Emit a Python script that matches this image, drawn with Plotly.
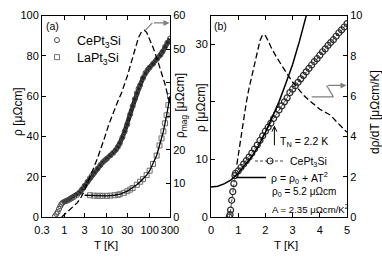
import numpy as np
import plotly.graph_objects as go

W, H = 382, 270
FONT = "Liberation Sans, Arial, Helvetica, sans-serif"

# ---------------- panel (a) data ----------------
a_xtick_vals = [0.3, 1, 3, 10, 30, 100, 300]
a_xtick_text = ["0.3", "1", "3", "10", "30", "100", "300"]
a_ytick_vals = [0, 20, 40, 60, 80, 100]
a_y2tick_vals = [0, 10, 20, 30, 40, 50, 60]
a_y2tick_text = ["0", "10", "20", "", "", "50", "60"]

ce_a_T = [0.60, 0.65, 0.70, 0.75, 0.80, 0.85, 0.90, 1.0, 1.1, 1.2, 1.35, 1.5, 1.7, 2.0,
          2.3, 2.6, 3.0, 3.5, 4.0, 4.5, 5.0, 6.0, 7.0, 8.0, 9.0, 10, 12, 14, 16, 18, 20,
          23, 26, 30, 35, 40, 45, 50, 55, 60, 70, 80, 90, 100, 120, 150, 180, 200, 230,
          260, 300]
ce_a_rho = [0.3, 1.5, 2.5, 4.0, 5.3, 6.3, 7.0, 7.6, 7.9, 8.2, 8.7, 9.3, 10.0, 11.0,
            12.3, 13.7, 15.5, 17.5, 19.3, 20.8, 22.0, 24.0, 25.8, 27.2, 28.2, 29.0, 30.5,
            31.8, 33.2, 34.8, 36.5, 39.5, 42.5, 46.0, 51.0, 55.0, 58.5, 61.5, 63.8, 65.5,
            69.0, 71.5, 73.0, 74.2, 76.0, 78.5, 80.5, 82.0, 84.5, 86.5, 88.5]

la_a_T = [4, 5, 6, 7, 8, 10, 12, 15, 18, 20, 25, 30, 35, 40, 50, 60, 70, 85, 100, 120,
          146, 170, 190, 210, 230, 250, 275, 300]
la_a_rho = [10.8, 10.6, 10.5, 10.5, 10.5, 10.5, 10.6, 10.8, 11.0, 11.3, 12.0, 12.8, 13.6,
            14.4, 16.0, 17.5, 18.8, 20.8, 23.0, 26.3, 30.5, 35.5, 39.0, 42.5, 46.5, 50.5,
            55.5, 60.0]

la_fit_T = [3, 4, 6, 10, 15, 20, 30, 40, 50, 60, 70, 85, 100, 120, 146, 170, 210, 250, 300]
la_fit_rho = [10.8, 10.7, 10.5, 10.5, 10.8, 11.3, 12.8, 14.4, 16.0, 17.5, 18.8, 20.8,
              23.0, 26.3, 30.5, 35.5, 42.5, 50.5, 60.0]

mag_T = [0.87, 1.0, 1.3, 1.6, 2.0, 2.5, 3.0, 3.5, 4.0, 5.0, 6.0, 7.5, 9.0, 11, 13, 15,
         18, 22, 26, 30, 38, 45, 55, 65, 75, 85, 100, 120, 150, 190, 230, 270, 300]
mag_v = [0, 0.7, 1.8, 2.9, 4.2, 6.0, 8.0, 10.2, 12.2, 15.0, 17.5, 20.8, 24.0, 27.5, 30.0,
         32.0, 34.5, 37.0, 39.5, 42.0, 46.5, 50.0, 53.5, 55.2, 55.6, 55.0, 53.0, 50.5,
         47.0, 43.0, 39.5, 35.8, 33.5]

arrow_a_T = [78, 116]
arrow_a_v = [55.5, 57.8]
arrow_a_tip_T = 292

# ---------------- panel (b) data ----------------
b_xtick_vals = [0, 1, 2, 3, 4, 5]
b_ytick_vals = [0, 10, 20, 30]
b_ytick_text = ["0", "10", "", "30"]
b_y2tick_vals = [0, 2, 4, 6, 8, 10]

ce_b_T = [0.67, 0.70, 0.72, 0.76, 0.80, 0.84, 0.88, 0.9, 1.0, 1.1, 1.2, 1.3, 1.4, 1.5,
          1.6, 1.7, 1.8, 1.9, 2.0, 2.1, 2.2, 2.3, 2.4, 2.5, 2.6, 2.7, 2.8, 2.9, 3.0, 3.1,
          3.2, 3.3, 3.4, 3.5, 3.6, 3.7, 3.8, 3.9, 4.0, 4.1, 4.2, 4.3, 4.4, 4.5, 4.6, 4.7,
          4.8, 4.9, 5.0]
ce_b_rho = [0.0, 0.4, 1.2, 2.9, 4.4, 5.8, 7.2, 7.6, 8.0, 8.6, 9.2, 9.8, 10.4, 11.1,
            11.8, 12.5, 13.3, 14.1, 14.9, 15.6, 16.3, 17.1, 17.8, 18.6, 19.3, 20.0, 20.7,
            21.6, 22.2, 22.8, 23.4, 24.0, 24.6, 25.2, 25.8, 26.4, 27.0, 27.5, 28.1, 28.7,
            29.2, 29.8, 30.3, 30.8, 31.4, 32.0, 32.5, 33.0, 33.6]

fit_b_T = [0, 0.25, 0.5, 0.75, 1.0, 1.25, 1.5, 1.75, 2.0, 2.25, 2.5, 2.75, 3.0, 3.25,
           3.5, 3.7]
fit_b_rho = [5.2, 5.35, 5.8, 6.5, 7.6, 9.0, 10.5, 12.4, 14.7, 17.3, 20.0, 23.2, 26.5,
             30.5, 35.0, 38.5]

drdt_T = [0.95, 1.05, 1.13, 1.2, 1.3, 1.4, 1.5, 1.6, 1.7, 1.8, 1.9, 2.0, 2.1, 2.2, 2.4,
          2.6, 2.8, 3.0, 3.2, 3.4, 3.6, 3.8, 4.0, 4.2, 4.4, 4.6, 4.8, 5.0]
drdt_v = [2.6, 3.5, 4.3, 5.0, 5.7, 6.4, 6.95, 7.6, 8.2, 8.75, 9.05, 9.0, 8.75, 8.45,
          7.95, 7.5, 7.1, 6.7, 6.35, 6.05, 5.8, 5.55, 5.35, 5.2, 5.05, 4.75, 4.45, 4.2]

arrow_b_T = [3.70, 4.50, 4.25]
arrow_b_v = [5.96, 5.96, 6.53]
arrow_b_tip_T = 4.98

tn_T = 2.33
tn_rho_tail, tn_rho_tip = 12.2, 15.9


def px(x):
    return x / W


def py(y):
    return 1 - y / H


fig = go.Figure()

# ----- panel (a) traces -----
fig.add_trace(go.Scatter(x=mag_T, y=mag_v, xaxis="x", yaxis="y2", mode="lines",
                         line=dict(color="black", width=1.3, dash="6px,3px"),
                         showlegend=False))
fig.add_trace(go.Scatter(x=ce_a_T[6:], y=ce_a_rho[6:], xaxis="x", yaxis="y", mode="lines",
                         line=dict(color="#262626", width=4.5), showlegend=False))
fig.add_trace(go.Scatter(x=ce_a_T, y=ce_a_rho, xaxis="x", yaxis="y", mode="markers",
                         marker=dict(symbol="circle-open", size=5, color="#4a4a4a",
                                     line=dict(width=1)),
                         name="CePt<sub>3</sub>Si", legend="legend"))
fig.add_trace(go.Scatter(x=la_a_T, y=la_a_rho, xaxis="x", yaxis="y", mode="markers",
                         marker=dict(symbol="square-open", size=5, color="#707070",
                                     line=dict(width=1)),
                         name="LaPt<sub>3</sub>Si", legend="legend4"))
fig.add_trace(go.Scatter(x=la_fit_T, y=la_fit_rho, xaxis="x", yaxis="y", mode="lines",
                         line=dict(color="black", width=1.3), showlegend=False))
fig.add_trace(go.Scatter(x=arrow_a_T, y=arrow_a_v, xaxis="x", yaxis="y2", mode="lines",
                         line=dict(color="#808080", width=1.2), showlegend=False))

# ----- panel (b) traces -----
fig.add_trace(go.Scatter(x=drdt_T, y=drdt_v, xaxis="x2", yaxis="y4", mode="lines",
                         line=dict(color="black", width=1.3, dash="6px,3px"),
                         showlegend=False))
fig.add_trace(go.Scatter(x=ce_b_T, y=ce_b_rho, xaxis="x2", yaxis="y3",
                         mode="lines+markers",
                         line=dict(color="#444444", width=1, dash="3px,2px"),
                         marker=dict(symbol="circle-open", size=6, color="#2a2a2a",
                                     line=dict(width=1.2)),
                         name="CePt<sub>3</sub>Si", legend="legend2"))
fig.add_trace(go.Scatter(x=fit_b_T, y=fit_b_rho, xaxis="x2", yaxis="y3", mode="lines",
                         line=dict(color="black", width=1.5),
                         name="ρ = ρ<sub>0</sub> + AT<sup>2</sup>", legend="legend3"))
fig.add_trace(go.Scatter(x=arrow_b_T, y=arrow_b_v, xaxis="x2", yaxis="y4", mode="lines",
                         line=dict(color="#808080", width=1.2), showlegend=False))

axis_common = dict(showline=True, linecolor="black", linewidth=1, ticks="inside",
                   ticklen=4, tickwidth=1, tickcolor="black", showgrid=False,
                   zeroline=False, automargin=False,
                   tickfont=dict(size=11, color="black", family=FONT))

ydom = [py(217), py(15.5)]


def leg(x, y, size):
    return dict(x=px(x), y=py(y), xanchor="left", yanchor="top",
                bgcolor="rgba(0,0,0,0)", borderwidth=0,
                font=dict(size=size, family=FONT, color="black"), itemwidth=30)


fig.update_layout(
    template="none",
    width=W, height=H, margin=dict(l=0, r=0, t=0, b=0, pad=0, autoexpand=False),
    paper_bgcolor="white", plot_bgcolor="white",
    font=dict(family=FONT, color="black", size=11),
    xaxis=dict(type="log", domain=[px(42), px(170)],
               range=[np.log10(0.3), np.log10(300)], tickmode="array",
               tickvals=a_xtick_vals, ticktext=a_xtick_text, anchor="y",
               mirror="ticks", ticklabelstandoff=3, **axis_common),
    yaxis=dict(domain=ydom, range=[0, 100], tickmode="array", tickvals=a_ytick_vals,
               anchor="x", **axis_common),
    yaxis2=dict(overlaying="y", side="right", range=[0, 60], tickmode="array",
                tickvals=a_y2tick_vals, ticktext=a_y2tick_text, anchor="x",
                **axis_common),
    xaxis2=dict(domain=[px(211), px(347)], range=[0, 5], tickmode="array",
                tickvals=b_xtick_vals, anchor="y3", mirror="ticks",
                ticklabelstandoff=3, **axis_common),
    yaxis3=dict(domain=ydom, range=[0, 35], tickmode="array", tickvals=b_ytick_vals,
                ticktext=b_ytick_text, anchor="x2", **axis_common),
    yaxis4=dict(overlaying="y3", side="right", range=[0, 10], tickmode="array",
                tickvals=b_y2tick_vals, anchor="x2", **axis_common),
    legend=leg(37, 25.5, 12.5),
    legend4=leg(37, 42.5, 12.5),
    legend2=leg(250, 146.5, 10.5),
    legend3=leg(231, 163, 10.5),
)

ann = []


def text(x, y, s, size=11, angle=0, xanchor="center"):
    ann.append(dict(x=px(x), y=py(y), xref="paper", yref="paper", text=s,
                    showarrow=False, textangle=angle, xanchor=xanchor,
                    yanchor="middle", font=dict(size=size, family=FONT, color="black")))


text(52, 26, "(a)", 10.5)
text(220, 26, "(b)", 10.5)
text(106, 245, "T [K]", 11.5)
text(286, 245, "T [K]", 11.5)
text(18, 112, "ρ [μΩcm]", 12, -90)
text(181, 106, "ρ<sub>mag</sub> [μΩcm]", 12, -90)
text(201, 108, "ρ [μΩcm]", 12, -90)
text(375, 112, "dρ/dT [μΩcm/K]", 12, -90)
text(278, 142, "T<sub>N</sub> = 2.2 K", 10.5, 0, "left")
text(270, 192, "ρ<sub>0</sub> = 5.2 μΩcm", 10, 0, "left")
text(270, 209, "A = 2.35 μΩcm/K<sup>2</sup>", 9.6, 0, "left")

# arrows
ann.append(dict(x=np.log10(arrow_a_tip_T), y=arrow_a_v[-1], xref="x", yref="y2",
                ax=np.log10(arrow_a_T[-1]), ay=arrow_a_v[-1], axref="x", ayref="y2",
                text="", showarrow=True, arrowhead=2, arrowsize=1, arrowwidth=1.2,
                arrowcolor="#808080", standoff=0))
ann.append(dict(x=arrow_b_tip_T, y=arrow_b_v[-1], xref="x2", yref="y4",
                ax=arrow_b_T[-1], ay=arrow_b_v[-1], axref="x2", ayref="y4",
                text="", showarrow=True, arrowhead=2, arrowsize=1, arrowwidth=1.2,
                arrowcolor="#808080", standoff=0))
ann.append(dict(x=tn_T, y=tn_rho_tip, xref="x2", yref="y3",
                ax=tn_T, ay=tn_rho_tail, axref="x2", ayref="y3",
                text="", showarrow=True, arrowhead=5, arrowsize=1, arrowwidth=1,
                arrowcolor="black", standoff=0))
fig.update_layout(annotations=ann)

fig.write_html("out.html", config={"displayModeBar": False},
               post_script="document.body.style.margin='0px';"
                           "document.body.style.overflow='hidden';")
